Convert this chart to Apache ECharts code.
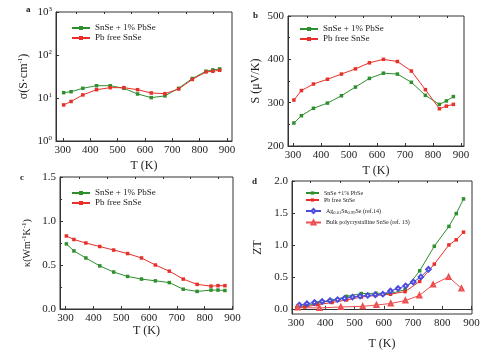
<!DOCTYPE html>
<html>
<head>
<meta charset="utf-8">
<script src="https://cdn.jsdelivr.net/npm/echarts@6.0.0/dist/echarts.min.js"></script>
<style>
html,body{margin:0;padding:0;background:#fff;}
#main{width:500px;height:354px;}
</style>
</head>
<body>
<div id="main"></div>
<script>
// temperatures (K)
var temps = [303, 330, 373, 423, 473, 523, 573, 623, 673, 723, 773, 823, 848, 873];
var tTicks = [300, 400, 500, 600, 700, 800, 900];
var tMinor = [350, 450, 550, 650, 750, 850];

// a: electrical conductivity
var sigmaPb = [13.3, 14, 16.8, 19.3, 19.3, 16.8, 12.4, 10.2, 11.2, 16.8, 28.4, 41.9, 45, 47.4];
var sigmaFree = [6.9, 8.3, 11.8, 15.6, 17.4, 17.4, 15.6, 13.1, 12.6, 16.2, 27, 40.4, 41.9, 44.2];
// b: Seebeck
var seebeckPb = [253, 270, 287, 299, 316, 336, 356, 368, 366, 347, 317, 296, 304, 314];
var seebeckFree = [306, 328, 343, 354, 366, 378, 392, 400, 395, 373, 330, 286, 292, 296];
// c: thermal conductivity
var kappaPb = [0.74, 0.66, 0.58, 0.49, 0.42, 0.37, 0.34, 0.32, 0.30, 0.225, 0.20, 0.215, 0.215, 0.21];
var kappaFree = [0.83, 0.79, 0.75, 0.71, 0.67, 0.63, 0.58, 0.50, 0.43, 0.34, 0.28, 0.26, 0.265, 0.265];
// d: ZT
var ztPb = [0.02, 0.04, 0.09, 0.13, 0.195, 0.24, 0.245, 0.24, 0.30, 0.595, 0.98, 1.29, 1.49, 1.72];
var ztFree = [0.02, 0.03, 0.065, 0.10, 0.14, 0.185, 0.21, 0.23, 0.27, 0.43, 0.70, 1.0, 1.08, 1.2];
var agTemps = [311, 337, 363, 389, 416, 442, 466, 493, 519, 545, 571, 597, 623, 649, 675, 701, 727, 753];
var ztAg = [0.06, 0.08, 0.10, 0.115, 0.13, 0.145, 0.165, 0.185, 0.20, 0.21, 0.22, 0.23, 0.28, 0.32, 0.36, 0.42, 0.50, 0.62];
var polyTemps = [306, 380, 453, 528, 575, 624, 674, 722, 769, 822, 866];
var ztPoly = [0.02, 0.015, 0.03, 0.04, 0.06, 0.085, 0.13, 0.21, 0.38, 0.5, 0.32];
var ztTicks = [0, 0.5, 1, 1.5, 2];

var FONT = 'Liberation Serif';
var GREEN = '#2f8f2f', RED = '#e8302a', BLUE = '#4b4bdc', PINK = '#ec4f4f';
var N1 = 'SnSe + 1% PbSe', N2 = 'Pb free SnSe';
var D1 = 'SnSe +1% PbSe', D2 = 'Pb free SnSe ', D3 = 'Ag', D4 = 'Bulk polycrystalline SnSe (ref. 13)';

function pairs(xs, ys) {
  var out = [];
  for (var i = 0; i < xs.length; i++) out.push([xs[i], ys[i]]);
  return out;
}

function xAxes(g, min, max, gap) {
  return [{
    type: 'value', gridIndex: g, min: min, max: max,
    name: 'T (K)', nameLocation: 'middle', nameGap: gap,
    nameTextStyle: {fontFamily: FONT, fontSize: 12, color: '#222'},
    axisLine: {lineStyle: {color: '#333'}}, splitLine: {show: false},
    axisTick: {inside: true, length: 3, customValues: tTicks, lineStyle: {color: '#333'}},
    axisLabel: {customValues: tTicks, fontFamily: FONT, fontSize: 11, color: '#222', margin: 4}
  }, {
    type: 'value', gridIndex: g, min: min, max: max,
    axisLine: {show: false}, splitLine: {show: false}, axisLabel: {show: false},
    axisTick: {inside: true, length: 2, customValues: tMinor, lineStyle: {color: '#333'}}
  }];
}

function yBase(g) {
  return {
    gridIndex: g,
    axisLine: {lineStyle: {color: '#333'}}, splitLine: {show: false},
    axisTick: {inside: true, length: 3, lineStyle: {color: '#333'}},
    nameLocation: 'middle',
    nameTextStyle: {fontFamily: FONT, fontSize: 12, color: '#222',
      rich: {sup: {fontFamily: FONT, fontSize: 7, padding: [0, 0, 6, 0], color: '#222'}}},
    axisLabel: {fontFamily: FONT, fontSize: 11, color: '#222', margin: 4,
      rich: {sup: {fontFamily: FONT, fontSize: 7, padding: [0, 0, 6, 0], color: '#222'}}}
  };
}

function line(name, xi, yi, data, color, symbol, size) {
  return {
    name: name, type: 'line', xAxisIndex: xi, yAxisIndex: yi, data: data,
    symbol: symbol || 'rect', symbolSize: size || 3.5,
    lineStyle: {width: 1, color: color}, itemStyle: {color: color},
    emphasis: {disabled: true}
  };
}

var ya = yBase(0);
ya.type = 'log'; ya.logBase = 10; ya.min = 1; ya.max = 1000;
ya.name = 'σ(S·cm{sup|-1})'; ya.nameGap = 26;
ya.axisLabel.formatter = function (v) { return '10{sup|' + Math.round(Math.log10(v)) + '}'; };

var yb = yBase(1);
yb.type = 'value'; yb.min = 200; yb.max = 500; yb.interval = 100;
yb.name = 'S (μV/K)'; yb.nameGap = 26;
yb.minorTick = {show: true, splitNumber: 2, length: 2, lineStyle: {color: '#333'}};

var yc = yBase(2);
yc.type = 'value'; yc.min = 0; yc.max = 1.5; yc.interval = 0.5;
yc.name = 'κ(Wm{sup|-1}K{sup|-1})'; yc.nameGap = 26;
yc.nameTextStyle.fontSize = 10;
yc.axisLabel.formatter = function (v) { return v.toFixed(1); };
yc.minorTick = {show: true, splitNumber: 2, length: 2, lineStyle: {color: '#333'}};

var yd = yBase(3);
yd.type = 'value'; yd.min = -0.08; yd.max = 2.0;
yd.name = 'ZT'; yd.nameGap = 28;
yd.axisTick.customValues = ztTicks;
yd.axisLabel.customValues = ztTicks;
yd.axisLabel.formatter = function (v) { return v.toFixed(1); };

var legendText = {fontFamily: FONT, fontSize: 9, color: '#222', lineHeight: 10};
var smallText = {fontFamily: FONT, fontSize: 6, color: '#222',
  rich: {n: {fontFamily: FONT, fontSize: 6, color: '#222'},
         s: {fontFamily: FONT, fontSize: 4.5, color: '#222', padding: [4, 0, 0, 0]}}};

var option = {
  backgroundColor: '#fff',
  animation: false,
  grid: [
    {left: 56, top: 12, width: 176, height: 129, show: true, borderColor: '#333', borderWidth: 1},
    {left: 288, top: 16, width: 176, height: 130, show: true, borderColor: '#333', borderWidth: 1},
    {left: 60, top: 177, width: 173, height: 132, show: true, borderColor: '#333', borderWidth: 1},
    {left: 292, top: 181, width: 180, height: 133, show: true, borderColor: '#333', borderWidth: 1}
  ],
  xAxis: [].concat(xAxes(0, 275, 918, 19), xAxes(1, 282, 911, 19), xAxes(2, 280, 902, 15), xAxes(3, 286, 902, 24)),
  yAxis: [ya, yb, yc, yd],
  legend: [
    {left: 66, top: 18, orient: 'vertical', itemGap: 0, itemWidth: 18, itemHeight: 5, data: [N1, N2], textStyle: legendText},
    {left: 294, top: 19, orient: 'vertical', itemGap: 0, itemWidth: 18, itemHeight: 5, data: [N1, N2], textStyle: legendText},
    {left: 66, top: 183, orient: 'vertical', itemGap: 0, itemWidth: 18, itemHeight: 5, data: [N1, N2], textStyle: legendText},
    {left: 300, top: 185, orient: 'vertical', itemGap: 1, itemWidth: 13, itemHeight: 4, data: [D1, D2], textStyle: smallText},
    {left: 300, top: 203, orient: 'vertical', itemGap: 4, itemWidth: 15, itemHeight: 5, data: [D3, D4], textStyle: smallText,
      formatter: function (n) {
        if (n === D3) return '{n|Ag}{s|0.01}{n|Sn}{s|0.99}{n|Se (ref.14)}';
        return '{n|' + n + '}';
      }}
  ],
  graphic: [
    {type: 'text', left: 26, top: 5, style: {text: 'a', fontFamily: FONT, fontSize: 9, fontWeight: 'bold', fill: '#222'}},
    {type: 'text', left: 253, top: 11, style: {text: 'b', fontFamily: FONT, fontSize: 9, fontWeight: 'bold', fill: '#222'}},
    {type: 'text', left: 20, top: 173, style: {text: 'c', fontFamily: FONT, fontSize: 9, fontWeight: 'bold', fill: '#222'}},
    {type: 'text', left: 252, top: 177, style: {text: 'd', fontFamily: FONT, fontSize: 9, fontWeight: 'bold', fill: '#222'}}
  ],
  series: [
    line(N1, 0, 0, pairs(temps, sigmaPb), GREEN),
    line(N2, 0, 0, pairs(temps, sigmaFree), RED),
    line(N1, 2, 1, pairs(temps, seebeckPb), GREEN),
    line(N2, 2, 1, pairs(temps, seebeckFree), RED),
    line(N1, 4, 2, pairs(temps, kappaPb), GREEN),
    line(N2, 4, 2, pairs(temps, kappaFree), RED),
    line(D1, 6, 3, pairs(temps, ztPb), GREEN),
    line(D2, 6, 3, pairs(temps, ztFree), RED),
    line(D3, 6, 3, pairs(agTemps, ztAg), BLUE, 'emptyDiamond', 4.5),
    line(D4, 6, 3, pairs(polyTemps, ztPoly), PINK, 'emptyTriangle', 4)
  ]
};

var chart = echarts.init(document.getElementById('main'));
chart.setOption(option);
</script>
</body>
</html>
